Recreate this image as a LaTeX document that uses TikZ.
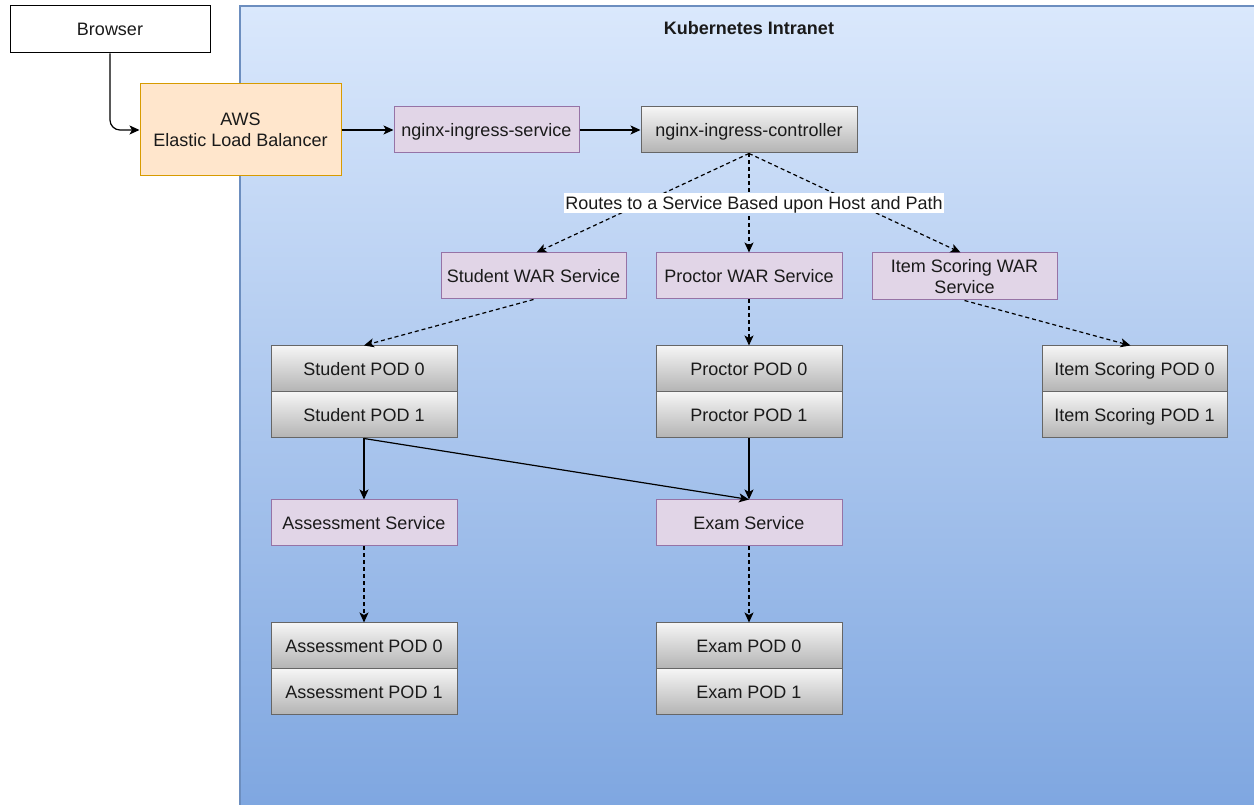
\documentclass[tikz,border=0pt]{standalone}
\usepackage{fontspec}
\setmainfont{Liberation Sans}
\usetikzlibrary{arrows.meta}
\definecolor{purpF}{HTML}{E1D5E7}
\definecolor{purpD}{HTML}{9673A6}
\definecolor{orgF}{HTML}{FFE6CC}
\definecolor{orgD}{HTML}{D79B00}
\definecolor{grayT}{HTML}{F5F5F5}
\definecolor{grayB}{HTML}{B3B3B3}
\definecolor{grayD}{HTML}{666666}
\definecolor{bgT}{HTML}{DAE8FC}
\definecolor{bgB}{HTML}{7EA6E0}
\definecolor{bgD}{HTML}{6C8EBF}
\definecolor{txt}{HTML}{1A1A1A}
\begin{document}
\begin{tikzpicture}[x=1pt,y=1pt,
  font=\fontsize{18}{21}\selectfont, text=txt,
  box/.style={draw, line width=1pt, minimum height=46pt, minimum width=186pt, inner sep=0pt, align=center, text height=12.9pt, text depth=0pt},
  twoline/.style={text height=33.9pt, text depth=0pt},
  svc/.style={box, fill=purpF, draw=purpD},
  pod/.style={box, top color=grayT, bottom color=grayB, draw=grayD},
  arr/.style={-{Stealth[length=10pt,width=9pt,inset=2.5pt]}, line width=1.2pt, draw=black},
  dsh/.style={arr, dash pattern=on 4pt off 3pt}]
\useasboundingbox (0,0) rectangle (1254,804);
% background container
\shade[top color=bgT, bottom color=bgB] (240,-10) rectangle (1270,798);
\draw[bgD, line width=1.5pt] (240,-10) -- (240,798) -- (1270,798);
\node[font=\fontsize{18}{21}\selectfont\bfseries, text height=12.9pt, text depth=0pt, inner sep=0pt] (title) at (749,776) {Kubernetes Intranet};
% nodes
\node[box, fill=white, draw=black, minimum width=200pt, minimum height=47pt] (br) at (110,774.5) {Browser};
\node[box, twoline, fill=orgF, draw=orgD, minimum width=201pt, minimum height=92pt] (aws) at (240.5,674) {AWS\\Elastic Load Balancer};
\node[svc, minimum width=185pt] (ns) at (486.5,674) {nginx-ingress-service};
\node[pod, minimum width=216pt] (nc) at (749,674) {nginx-ingress-controller};
\node[svc, minimum width=185pt] (sw) at (533.5,528) {Student WAR Service};
\node[svc] (pw) at (749,528) {Proctor WAR Service};
\node[svc, twoline, minimum width=185pt, minimum height=47pt] (iw) at (964.5,527.5) {Item Scoring WAR\\Service};
\node[pod] (sp0) at (364,435) {Student POD 0};
\node[pod] (sp1) at (364,389) {Student POD 1};
\node[pod] (pp0) at (749,435) {Proctor POD 0};
\node[pod] (pp1) at (749,389) {Proctor POD 1};
\node[pod, minimum width=185pt] (ip0) at (1134.5,435) {Item Scoring POD 0};
\node[pod, minimum width=185pt] (ip1) at (1134.5,389) {Item Scoring POD 1};
\node[svc] (as) at (364,281) {Assessment Service};
\node[svc] (es) at (749,281) {Exam Service};
\node[pod] (ap0) at (364,158) {Assessment POD 0};
\node[pod] (ap1) at (364,112) {Assessment POD 1};
\node[pod] (ep0) at (749,158) {Exam POD 0};
\node[pod] (ep1) at (749,112) {Exam POD 1};
% connectors
\draw[arr, rounded corners=10pt] (br.south) |- (aws.west);
\draw[arr] (aws.east) -- (ns.west);
\draw[arr] (ns.east) -- (nc.west);
\draw[dsh] (nc.south) -- ([xshift=3pt]sw.north);
\draw[dsh] (nc.south) -- (pw.north);
\draw[dsh] (nc.south) -- ([xshift=-4pt]iw.north);
\draw[dsh] (sw.south) -- (sp0.north);
\draw[dsh] (pw.south) -- (pp0.north);
\draw[dsh] (iw.south) -- ([xshift=-4pt]ip0.north);
\draw[arr] (sp1.south) -- (as.north);
\draw[arr] (sp1.south) -- (es.north);
\draw[arr] (pp1.south) -- (es.north);
\draw[dsh] (as.south) -- (ap0.north);
\draw[dsh] (es.south) -- (ep0.north);
\node[fill=white, inner xsep=1pt, inner ysep=0pt, text height=16.9pt, text depth=4pt] (lbl) at (754,601) {Routes to a Service Based upon Host and Path};
\end{tikzpicture}
\end{document}
